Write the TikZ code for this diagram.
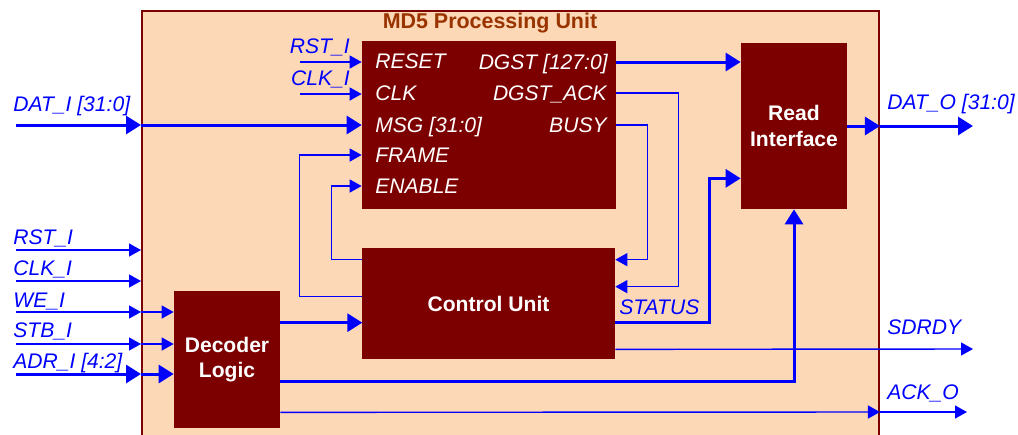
\documentclass[tikz,border=0pt]{standalone}
\usepackage{fontspec}
\setmainfont{Liberation Sans}
\usetikzlibrary{arrows.meta, positioning}
\definecolor{peach}{RGB}{253,216,182}
\definecolor{boxred}{RGB}{125,0,0}
\definecolor{titlebrown}{RGB}{153,51,0}
\definecolor{wireblue}{RGB}{0,0,255}

\begin{document}
\begin{tikzpicture}[x=0.02cm, y=-0.02cm,
                    block/.style={fill=boxred, text=white, align=center, inner sep=0pt, font=\fontsize{12}{14.5}\selectfont\bfseries},
                    port/.style={text=white, inner sep=0pt, text height=8.6pt, text depth=0pt, font=\fontsize{12}{14}\selectfont\itshape},
                    signal/.style={port, text=wireblue},
                    wire/.style={draw=wireblue, line width=0.8pt, -{Triangle[length=0.24cm, width=0.26cm]}},
                    bus/.style={draw=wireblue, line width=1.7pt, -{Triangle[length=0.3cm, width=0.36cm]}}]

    \useasboundingbox (0,0) rectangle (1018,434);
    \clip (0,0) rectangle (1018,434);

    % the whole unit
    \node[draw=boxred, line width=1.2pt, fill=peach, anchor=north west,
          minimum width=14.74cm, minimum height=9cm]                       (unit)  at (141,10)    {};
    \node[font=\fontsize{12.2}{14}\selectfont\bfseries, text=titlebrown]   (title) at (490,23)    {MD5 Processing Unit};

    \node[block, minimum width=5.08cm, minimum height=3.36cm]              (core)  at (489,125)   {};
    \node[block, minimum width=5.06cm, minimum height=2.22cm]              (ctrl)  at (488.5,303.5) {Control Unit};
    \node[block, minimum width=2.12cm, minimum height=3.32cm]              (rdif)  at (794,126)   {Read\\Interface};
    \node[block, minimum width=2.12cm, minimum height=2.74cm]              (dec)   at (227,359.5) {Decoder\\Logic};

    % ports of the MD5 core
    \node[port, anchor=west] (reset)   at (375,61)  {RESET};
    \node[port, anchor=west] (clk)     at (375,93)  {CLK};
    \node[port, anchor=west] (msg)     at (375,125) {MSG [31:0]};
    \node[port, anchor=west] (frame)   at (375,155) {FRAME};
    \node[port, anchor=west] (enable)  at (375,186) {ENABLE};
    \node[port, anchor=east] (dgst)    at (608,62)  {DGST [127:0]};
    \node[port, anchor=east] (dgstack) at (607,93)  {DGST\_ACK};
    \node[port, anchor=east] (busy)    at (607,125) {BUSY};

    % signal names
    \node[signal, anchor=east] (rstcore) at (350,46)  {RST\_I};
    \node[signal, anchor=east] (clkcore) at (350,78)  {CLK\_I};
    \node[signal, anchor=west] (dati)    at (13,104)  {DAT\_I [31:0]};
    \node[signal, anchor=west] (rsti)    at (13,237)  {RST\_I};
    \node[signal, anchor=west] (clki)    at (13,268)  {CLK\_I};
    \node[signal, anchor=west] (wei)     at (13,300)  {WE\_I};
    \node[signal, anchor=west] (stbi)    at (13,330)  {STB\_I};
    \node[signal, anchor=west] (adri)    at (13,361)  {ADR\_I [4:2]};
    \node[signal, anchor=west] (status)  at (619,307) {STATUS};
    \node[signal, anchor=west] (dato)    at (887,102) {DAT\_O [31:0]};
    \node[signal, anchor=west] (sdrdy)   at (887,327) {SDRDY};
    \node[signal, anchor=west] (acko)    at (887,392) {ACK\_O};

    % loose ends of the wires
    \coordinate (rstcoreS) at (300,62);
    \coordinate (clkcoreS) at (300,94);
    \coordinate (datiS)    at (16,125);
    \coordinate (rstiS)    at (16,250);
    \coordinate (clkiS)    at (16,281);
    \coordinate (weiS)     at (16,312);
    \coordinate (stbiS)    at (16,344);
    \coordinate (adriS)    at (16,374);
    \coordinate (datoE)    at (973,125);
    \coordinate (sdrdyE)   at (973,349);
    \coordinate (ackoE)    at (967,412);

    % inputs of the core
    \draw[wire] (rstcoreS) -- (rstcoreS -| core.west);
    \draw[wire] (clkcoreS) -- (clkcoreS -| core.west);
    \draw[bus]  (datiS) -- (datiS -| unit.west);
    \draw[bus]  (datiS -| unit.west) -- (datiS -| core.west);

    % between core and control unit
    \draw[wire] ([yshift=-0.98cm]ctrl.north west) -- ++(-62,0) |- (core.west |- frame);
    \draw[wire] ([yshift=-0.24cm]ctrl.north west) -- ++(-30,0) |- (core.west |- enable);
    \draw[wire] (core.east |- dgstack) -- ++(62,0) |- ([yshift=-0.78cm]ctrl.north east);
    \draw[wire] (core.east |- busy) -- ++(31,0) |- ([yshift=-0.24cm]ctrl.north east);

    % read side
    \draw[bus]  (core.east |- dgst) -- (rdif.west |- dgst);
    \draw[bus]  ([yshift=-1.5cm]ctrl.north east) -- ++(94,0) |- ([yshift=0.62cm]rdif.south west);
    \draw[bus]  (rdif.east) -- (rdif.east -| unit.east);
    \draw[bus]  (rdif.east -| unit.east) -- (rdif.east -| datoE);
    \draw[wire] ([yshift=0.2cm]ctrl.south east) -- (sdrdyE);

    % decoder
    \draw[bus]  ([yshift=-0.64cm]dec.north east) -- ++(82,0);
    \draw[bus]  ([yshift=0.94cm]dec.south east) -| (rdif.south);
    \draw[wire] ([yshift=0.32cm]dec.south east) -- (ackoE -| unit.east);
    \draw[wire] (ackoE -| unit.east) -- (ackoE);

    % bus inputs
    \draw[wire] (rstiS) -- (rstiS -| unit.west);
    \draw[wire] (clkiS) -- (clkiS -| unit.west);
    \draw[wire] (weiS) -- (weiS -| unit.west);
    \draw[wire] (weiS -| unit.west) -- (weiS -| dec.west);
    \draw[wire] (stbiS) -- (stbiS -| unit.west);
    \draw[wire] (stbiS -| unit.west) -- (stbiS -| dec.west);
    \draw[bus]  (adriS) -- (adriS -| unit.west);
    \draw[bus]  (adriS -| unit.west) -- (adriS -| dec.west);

\end{tikzpicture}
\end{document}
